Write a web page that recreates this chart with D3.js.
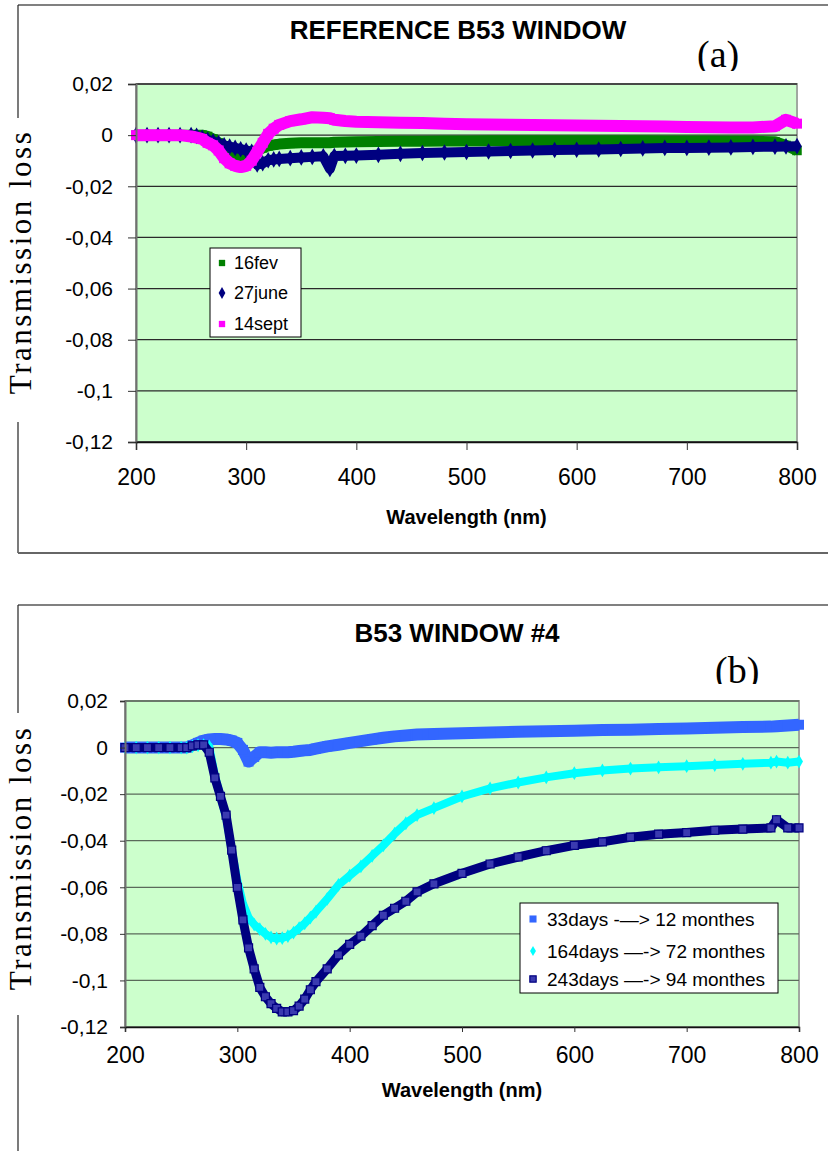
<!DOCTYPE html>
<html>
<head>
<meta charset="utf-8">
<script src="https://cdn.jsdelivr.net/npm/d3@7"></script>
<style>
body { margin: 0; background: #fff; }
svg { display: block; }
</style>
</head>
<body>
<div id="chart"></div>
<script>
// ---- panel (a) data : REFERENCE B53 WINDOW ----
var wlA = [200,210,220,230,240,250,255,260,265,270,275,280,285,290,295,300,
  305,310,315,320,325,330,340,350,360,370,376,380,390,400,
  420,440,460,480,500,520,540,560,580,600,620,640,660,680,700,
  720,740,760,780,790,800];

var fev16 = [0,0,0,0,0,0,0,0,-0.0005,-0.0015,-0.003,-0.005,-0.0065,-0.0075,-0.008,-0.0078,
  -0.007,-0.006,-0.005,-0.0042,-0.0038,-0.0035,-0.0032,-0.003,-0.003,-0.003,-0.003,-0.0028,-0.0027,-0.0026,
  -0.0025,-0.0024,-0.0024,-0.0023,-0.0023,-0.0022,-0.0022,-0.0022,-0.0022,-0.0022,-0.0022,-0.0022,-0.0022,-0.0023,-0.0023,
  -0.0023,-0.0024,-0.0024,-0.0026,-0.004,-0.006];

var june27 = [0,0,0,0,0,0,-0.0003,-0.001,-0.0018,-0.0025,-0.0032,-0.004,-0.0045,-0.005,-0.0055,-0.006,
  -0.0065,-0.0115,-0.011,-0.0098,-0.0095,-0.0093,-0.009,-0.0087,-0.0085,-0.0083,-0.0132,-0.0082,-0.0081,-0.008,
  -0.0077,-0.0073,-0.007,-0.0068,-0.0066,-0.0064,-0.0062,-0.006,-0.0058,-0.0057,-0.0056,-0.0054,-0.0052,-0.005,-0.005,
  -0.0049,-0.0048,-0.0046,-0.0045,-0.0044,-0.0043];

var sept14 = [0,0,0,0,0,-0.0005,-0.001,-0.0015,-0.003,-0.004,-0.006,-0.009,-0.011,-0.012,-0.0125,-0.012,
  -0.01,-0.0065,-0.003,0.0005,0.0025,0.004,0.0055,0.0062,0.007,0.0068,0.0066,0.006,0.0055,0.0052,
  0.005,0.0048,0.0047,0.0045,0.0043,0.0042,0.0041,0.004,0.0039,0.0038,0.0037,0.0036,0.0035,0.0034,0.0032,
  0.0031,0.003,0.003,0.0035,0.006,0.0045];

// ---- panel (b) data : B53 WINDOW #4 ----
var wlB = [200,210,220,230,240,250,255,260,265,270,275,280,285,290,295,300,
  305,310,315,320,325,330,335,340,345,350,355,360,365,370,
  380,390,400,410,420,430,440,450,460,475,500,525,550,575,600,
  625,650,675,700,725,750,775,780,790,800];

var days33 = [0,0,0,0,0,0,0,0.001,0.002,0.003,0.0035,0.0037,0.0037,0.0035,0.003,0.002,
  -0.001,-0.006,-0.004,-0.002,-0.002,-0.0022,-0.002,-0.002,-0.002,-0.0018,-0.0015,-0.0012,-0.001,-0.0005,
  0.0005,0.0012,0.002,0.0028,0.0035,0.0042,0.0048,0.0052,0.0056,0.0058,0.0062,0.0065,0.0068,0.007,0.0072,
  0.0075,0.0077,0.008,0.0082,0.0085,0.0088,0.009,0.0092,0.0095,0.0098];

var days164 = [0,0,0,0,0,0,0,0.0005,0.001,0.001,0.0005,-0.012,-0.021,-0.03,-0.044,-0.057,
  -0.067,-0.073,-0.076,-0.078,-0.08,-0.0815,-0.082,-0.0818,-0.081,-0.0795,-0.0775,-0.0755,-0.073,-0.0705,
  -0.065,-0.059,-0.055,-0.051,-0.0465,-0.042,-0.037,-0.0325,-0.029,-0.026,-0.021,-0.0175,-0.015,-0.0128,-0.011,
  -0.0098,-0.009,-0.0085,-0.008,-0.0075,-0.007,-0.0065,-0.006,-0.0065,-0.006];

var days243 = [0,0,0,0,0,0,0,0.0007,0.0012,0.0012,-0.002,-0.013,-0.021,-0.029,-0.044,-0.06,
  -0.074,-0.086,-0.095,-0.103,-0.107,-0.11,-0.112,-0.1135,-0.1135,-0.113,-0.111,-0.108,-0.104,-0.1005,
  -0.095,-0.089,-0.0845,-0.081,-0.0765,-0.072,-0.069,-0.066,-0.062,-0.0585,-0.054,-0.05,-0.047,-0.0443,-0.042,
  -0.0405,-0.0385,-0.0372,-0.0365,-0.0355,-0.035,-0.0345,-0.031,-0.0345,-0.0345];

// axis ticks
var yTicks = [0.02, 0, -0.02, -0.04, -0.06, -0.08, -0.1, -0.12];
var yTickLabels = ["0,02", "0", "-0,02", "-0,04", "-0,06", "-0,08", "-0,1", "-0,12"];
var xTicks = [200, 300, 400, 500, 600, 700, 800];

var sans = "'Liberation Sans', Arial, sans-serif";
var serif = "'Liberation Serif', 'Times New Roman', serif";

var svg = d3.select("#chart")
  .append("svg")
  .attr("width", 828)
  .attr("height", 1151);

var defs = svg.append("defs");

function drawPanel(p) {
  var g = svg.append("g");

  // outer frame of the excel chart (broken where the y label sat)
  g.append("line").attr("x1", 18).attr("x2", 828).attr("y1", p.frameTop).attr("y2", p.frameTop)
    .attr("stroke", "#808080").attr("stroke-width", 2);
  p.frameLeft.forEach(function(seg) {
    g.append("line").attr("x1", 18).attr("x2", 18).attr("y1", seg[0]).attr("y2", seg[1])
      .attr("stroke", "#222").attr("stroke-width", 1.2);
  });
  if (p.frameBottom) {
    g.append("line").attr("x1", 18).attr("x2", 828).attr("y1", p.frameBottom).attr("y2", p.frameBottom)
      .attr("stroke", "#666").attr("stroke-width", 2);
  }

  var x = d3.scaleLinear().domain([200, 800]).range([p.left, p.right]);
  var y = d3.scaleLinear().domain([-0.12, 0.02]).range([p.bottom, p.top]);

  // plot area
  g.append("rect")
    .attr("x", p.left).attr("y", p.top)
    .attr("width", p.right - p.left).attr("height", p.bottom - p.top)
    .attr("fill", "#ccffcc")
    .attr("stroke", "#a0a8a0").attr("stroke-width", 2);

  // gridlines
  g.selectAll(".grid")
    .data(yTicks)
    .enter()
    .append("line")
    .attr("x1", p.left).attr("x2", p.right)
    .attr("y1", d => y(d)).attr("y2", d => y(d))
    .attr("stroke", p.gridColor).attr("stroke-width", 1.3);

  // series: a thick trace plus the dense markers
  p.series.forEach(function(s) {
    var pts = p.wl.map((w, i) => [w, s.values[i]]);
    var line = d3.line().x(d => x(d[0])).y(d => y(d[1]));
    g.append("path")
      .datum(pts)
      .attr("d", line)
      .attr("fill", "none")
      .attr("stroke", s.color)
      .attr("stroke-width", s.width)
      .attr("stroke-linejoin", "round");
    g.selectAll(null)
      .data(pts)
      .enter()
      .append("path")
      .attr("transform", d => `translate(${x(d[0])},${y(d[1])})`)
      .attr("d", d3.symbol().type(s.shape).size(s.size))
      .attr("fill", s.fill || s.color)
      .attr("stroke", s.stroke || "none")
      .attr("stroke-width", 1.2);
  });

  // axes
  var leftAxis = d3.axisLeft(y)
    .tickValues(yTicks)
    .tickFormat((d, i) => yTickLabels[i])
    .tickSizeOuter(0)
    .tickSize(p.ytick)
    .tickPadding(p.ypad);
  var yAxis = g.append("g")
    .attr("transform", `translate(${p.left},0)`)
    .call(leftAxis);
  yAxis.select(".domain").attr("stroke", "#707070").attr("stroke-width", 2);
  yAxis.selectAll(".tick line").attr("stroke", "#333");
  yAxis.selectAll("text").attr("font-family", sans).attr("font-size", 21).attr("fill", "#000");

  var bottomAxis = d3.axisBottom(x)
    .tickValues(xTicks)
    .tickSizeOuter(0)
    .tickSize(p.xtick)
    .tickPadding(p.xpad);
  var xAxis = g.append("g")
    .attr("transform", `translate(0,${p.bottom})`)
    .call(bottomAxis);
  xAxis.select(".domain").attr("stroke", "#111").attr("stroke-width", 1.5);
  xAxis.selectAll(".tick line").attr("stroke", "#333");
  xAxis.selectAll("text").attr("font-family", sans).attr("font-size", 23).attr("fill", "#000");

  // titles
  g.append("text")
    .attr("x", p.titleX).attr("y", p.titleY)
    .attr("text-anchor", "middle")
    .attr("font-family", sans).attr("font-weight", "bold").attr("font-size", 26)
    .text(p.title);

  g.append("text")
    .attr("x", (p.left + p.right) / 2).attr("y", p.xTitleY)
    .attr("text-anchor", "middle")
    .attr("font-family", sans).attr("font-weight", "bold").attr("font-size", 20)
    .text("Wavelength (nm)");

  g.append("text")
    .attr("transform", `translate(31,${p.yTitleY}) rotate(-90)`)
    .attr("text-anchor", "middle")
    .attr("font-family", serif).attr("font-size", 31)
    .attr("letter-spacing", 2.5)
    .text("Transmission loss");

  // panel tag, cut at the bottom like in the figure
  defs.append("clipPath").attr("id", "clip" + p.id)
    .append("rect").attr("x", 600).attr("y", p.tagY - 60).attr("width", 228).attr("height", p.tagClip - (p.tagY - 60));
  g.append("text")
    .attr("x", p.tagX).attr("y", p.tagY)
    .attr("clip-path", `url(#clip${p.id})`)
    .attr("font-family", serif).attr("font-size", 38)
    .text(p.tag);

  // legend
  var lg = p.legend;
  g.append("rect")
    .attr("x", lg.x).attr("y", lg.y).attr("width", lg.w).attr("height", lg.h)
    .attr("fill", "#fff").attr("stroke", "#000").attr("stroke-width", 1);
  p.series.forEach(function(s, i) {
    var cy = lg.rows[i];
    g.append("path")
      .attr("transform", `translate(${lg.mx},${cy})`)
      .attr("d", d3.symbol().type(s.shape).size(s.legendSize || s.size))
      .attr("fill", s.fill || s.color)
      .attr("stroke", s.stroke || "none")
      .attr("stroke-width", 1.2);
    g.append("text")
      .attr("x", lg.tx).attr("y", cy + lg.fs * 0.36)
      .attr("font-family", sans).attr("font-size", lg.fs)
      .text(s.name);
  });
}

drawPanel({
  id: "a",
  frameTop: 5, frameLeft: [[5, 118], [422, 553]], frameBottom: 553,
  left: 136, right: 797, top: 84, bottom: 442,
  gridColor: "#2a2a2a",
  ytick: 8, ypad: 15, xtick: 8, xpad: 19,
  title: "REFERENCE B53 WINDOW", titleX: 458, titleY: 39,
  xTitleY: 524, yTitleY: 262,
  tag: "(a)", tagX: 697, tagY: 67, tagClip: 71,
  wl: wlA,
  series: [
    {name: "16fev", values: fev16, color: "#008000", shape: d3.symbolSquare, size: 90, legendSize: 40, width: 11},
    {name: "27june", values: june27, color: "#000080", shape: d3.symbolDiamond, size: 80, legendSize: 40, width: 10},
    {name: "14sept", values: sept14, color: "#ff00ff", shape: d3.symbolSquare, size: 100, legendSize: 40, width: 12}
  ],
  legend: {x: 210, y: 248, w: 91, h: 89, mx: 222, tx: 234, fs: 18, rows: [263, 293, 324]}
});

drawPanel({
  id: "b",
  frameTop: 605, frameLeft: [[605, 713], [1015, 1151]], frameBottom: null,
  left: 125, right: 799, top: 701, bottom: 1027,
  gridColor: "#5a6a5a",
  ytick: 5, ypad: 12, xtick: 5, xpad: 15,
  title: "B53 WINDOW #4", titleX: 457, titleY: 642,
  xTitleY: 1097, yTitleY: 858,
  tag: "(b)", tagX: 715, tagY: 683, tagClip: 684,
  wl: wlB,
  series: [
    {name: "33days -\u2014> 12 monthes", values: days33, color: "#3366ff", shape: d3.symbolSquare, size: 100, legendSize: 50, width: 12},
    {name: "164days \u2014-> 72 monthes", values: days164, color: "#00ffff", shape: d3.symbolDiamond, size: 55, legendSize: 30, width: 8},
    {name: "243days \u2014-> 94 monthes", values: days243, color: "#000080", fill: "#3a3ab0", stroke: "#000080", shape: d3.symbolSquare, size: 64, legendSize: 40, width: 9}
  ],
  legend: {x: 520, y: 903, w: 258, h: 90, mx: 533, tx: 547, fs: 19, rows: [919, 951, 979]}
});
</script>
</body>
</html>
